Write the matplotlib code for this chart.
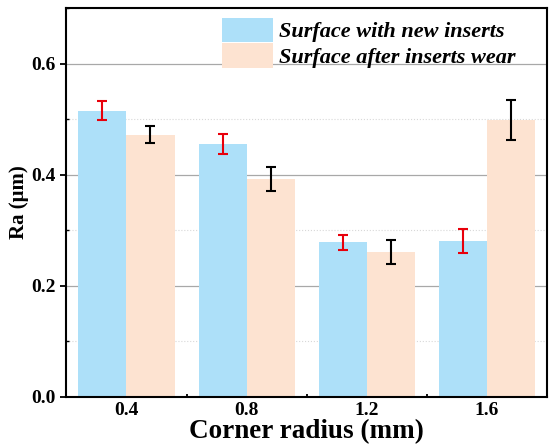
import numpy as np
import matplotlib.pyplot as plt
from matplotlib.ticker import MultipleLocator

# Surface roughness data
radius = [0.4, 0.8, 1.2, 1.6]
ra_new = [0.515, 0.455, 0.278, 0.281]
err_new = [0.017, 0.018, 0.014, 0.022]
ra_worn = [0.472, 0.392, 0.261, 0.499]
err_worn = [0.015, 0.021, 0.022, 0.036]
labels = ['Surface with new inserts', 'Surface after inserts wear']

plt.rcParams['font.family'] = ['Liberation Serif', 'DejaVu Serif']
plt.rcParams['font.weight'] = 'bold'

fig = plt.figure(figsize=(5.49, 4.46), dpi=100)
ax = fig.add_axes([0.121, 0.110, 0.875, 0.872])

x = np.array(radius)
w = 0.16
ax.bar(x - w / 2, ra_new, width=w, color='#ade0f9', label=labels[0], zorder=2)
ax.bar(x + w / 2, ra_worn, width=w, color='#fde3d1', label=labels[1], zorder=2)
ax.errorbar(x - w / 2, ra_new, yerr=err_new, fmt='none', ecolor='#e8000b',
            elinewidth=1.5, capsize=3.8, capthick=1.5, zorder=3)
ax.errorbar(x + w / 2, ra_worn, yerr=err_worn, fmt='none', ecolor='black',
            elinewidth=1.5, capsize=3.8, capthick=1.5, zorder=3)

ax.set_xlim(0.2, 1.8)
ax.set_ylim(0, 0.7)
ax.set_xticks(radius)
ax.set_xticklabels([f'{r:.1f}' for r in radius])
ax.xaxis.set_minor_locator(plt.FixedLocator([0.6, 1.0, 1.4]))
ax.set_yticks([0.0, 0.2, 0.4, 0.6])
ax.yaxis.set_minor_locator(MultipleLocator(0.1))

ax.grid(axis='y', which='major', color='#a8a8a8', lw=0.9, zorder=0)
ax.grid(axis='y', which='minor', color='#d8d8d8', lw=0.8, ls=':', zorder=0)
ax.set_axisbelow(True)

ax.tick_params(axis='y', which='major', direction='out', length=4, width=1.3, labelsize=14)
ax.tick_params(axis='y', which='minor', direction='in', length=2, width=1)
ax.tick_params(axis='x', which='major', direction='in', length=4, width=1.3, labelsize=14)
ax.tick_params(axis='x', which='minor', direction='in', length=2, width=1.3)
for s in ax.spines.values():
    s.set_linewidth(1.5)

ax.set_xlabel('Corner radius (mm)', fontsize=19.5, fontweight='bold', labelpad=0)
ax.set_ylabel('Ra (μm)', fontsize=15, fontweight='bold', labelpad=2)

ax.legend(loc='upper right', bbox_to_anchor=(0.965, 1.012), frameon=False,
          prop={'style': 'italic', 'weight': 'bold', 'size': 16},
          handlelength=2.3, handleheight=1.3, handletextpad=0.25,
          labelspacing=0.05, borderaxespad=0.25)

fig.savefig('out.png', dpi=100)
